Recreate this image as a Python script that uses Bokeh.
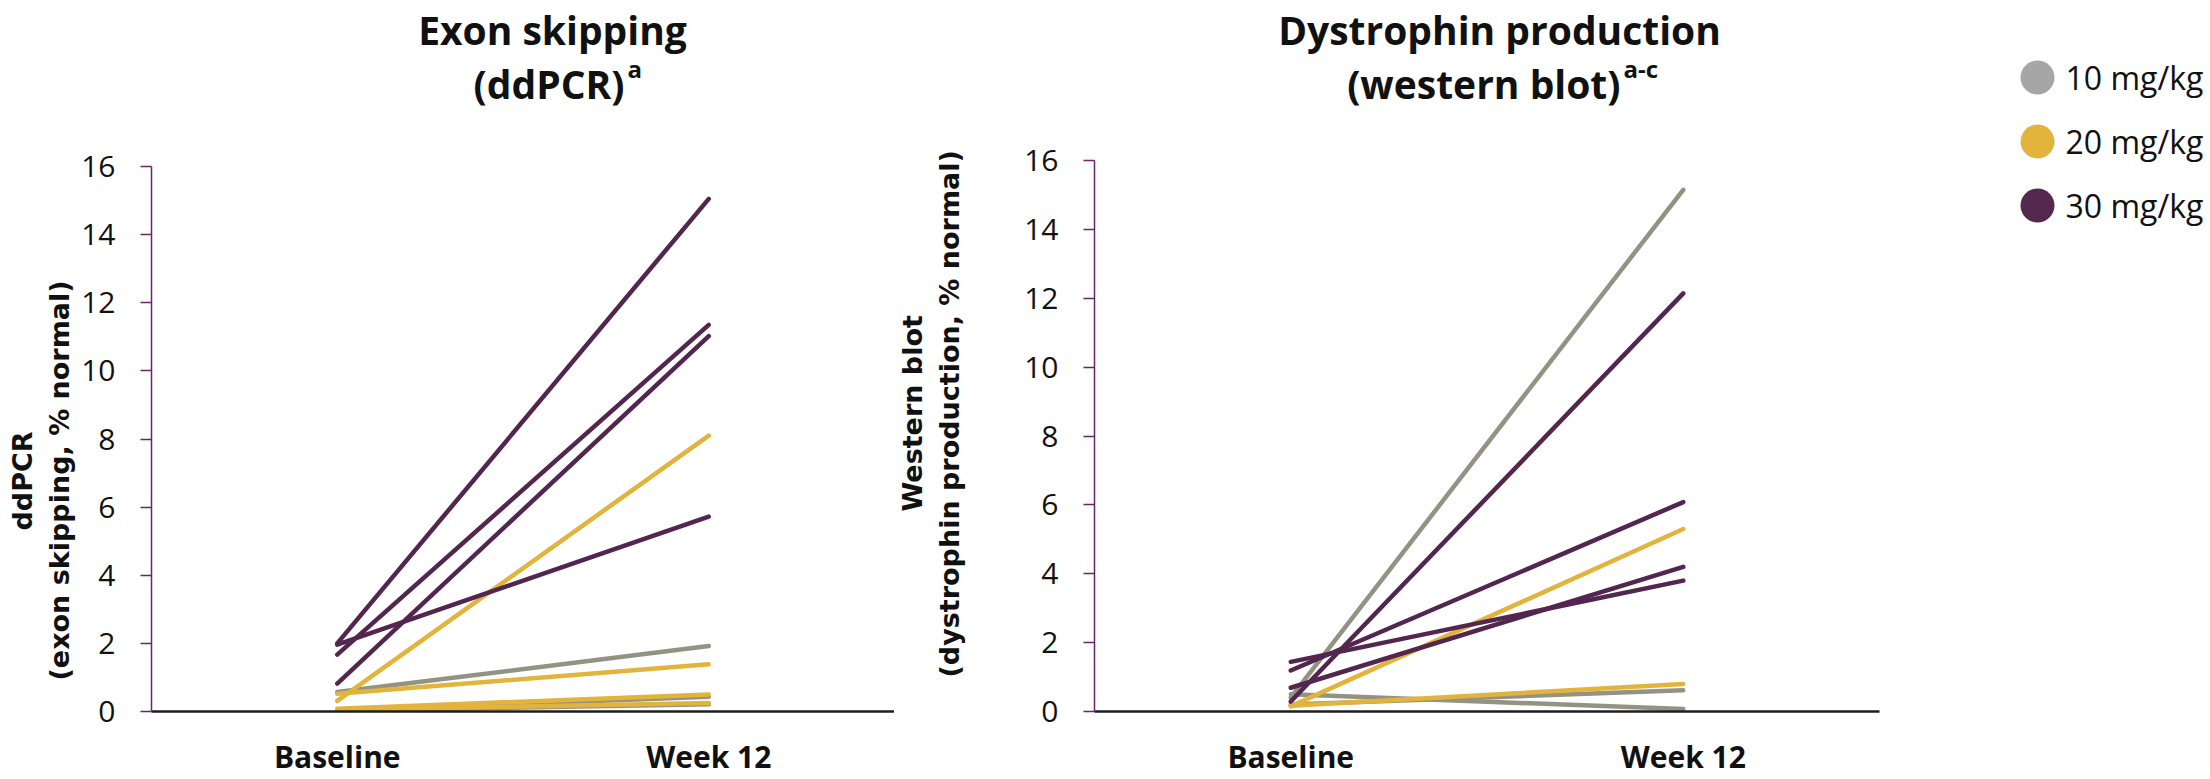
from bokeh.plotting import figure
from bokeh.models import FactorRange, Range1d, FixedTicker, Title, ColumnDataSource
from bokeh.layouts import row, column
from bokeh.embed import file_html
from bokeh.resources import INLINE
from bokeh.core.properties import value

# ---------------- data ----------------
timepoints = ["Baseline", "Week 12"]
doses = ["10 mg/kg", "20 mg/kg", "30 mg/kg"]
line_colors = ["#939384", "#e3b43c", "#53264f"]
legend_colors = ["#a6a6a6", "#e3b43c", "#55284f"]
y_ticks = [0, 2, 4, 6, 8, 10, 12, 14, 16]

# Exon skipping (ddPCR), % normal
exon_dose = ["10 mg/kg"] * 3 + ["20 mg/kg"] * 4 + ["30 mg/kg"] * 4
exon_baseline = [0.57, 0.03, 0.02, 0.31, 0.52, 0.08, 0.05, 2.00, 1.67, 0.82, 1.96]
exon_week12 = [1.92, 0.43, 0.21, 8.10, 1.39, 0.50, 0.25, 15.05, 11.35, 11.02, 5.72]

# Dystrophin production (western blot), % normal
wb_dose = ["10 mg/kg"] * 3 + ["20 mg/kg"] * 2 + ["30 mg/kg"] * 4
wb_baseline = [0.40, 0.50, 0.20, 0.15, 0.17, 0.29, 1.19, 0.69, 1.44]
wb_week12 = [15.15, 0.07, 0.62, 5.30, 0.80, 12.14, 6.08, 4.20, 3.80]

# titles: main line, second line, superscript
titles_l1 = ["Exon skipping", "Dystrophin production"]
titles_l2 = ["(ddPCR)", "(western blot)"]
titles_sup = ["a", "a-c"]

TICK_FONT = "Open Sans"
LABEL_FONT = "DejaVu Sans"
AXIS_PURPLE = "#6a2468"
TXT = "#111111"

# ---------------- layout constants (pixels) ----------------
P1_W, P2_W, LEG_W = 894, 1005, 311
TOTAL_H = 779
HEAD_H = 116
PLOT_H = TOTAL_H - HEAD_H


def bare(width, height, x_end, y_start):
    f = figure(width=width, height=height, x_range=Range1d(0, x_end),
               y_range=Range1d(y_start, 0), output_backend="svg",
               toolbar_location=None, x_axis_location=None, y_axis_location=None,
               min_border=0, min_border_left=0, min_border_right=0,
               min_border_top=0, min_border_bottom=0, title=None)
    f.grid.visible = False
    f.outline_line_color = None
    f.frame_align = False
    return f


def make_panel(ylabel, base, wk12, dose, width, mb_left, mb_right, mb_top,
               lab_offsets, lab_standoffs, inner_gap):
    p = figure(x_range=FactorRange(factors=timepoints, range_padding=0),
               y_range=Range1d(0, 16), width=width, height=PLOT_H,
               output_backend="svg", toolbar_location=None, title=None,
               min_border_left=mb_left, min_border_right=mb_right,
               min_border_top=mb_top, min_border_bottom=65)
    p.frame_align = False
    p.outline_line_color = None
    p.xgrid.grid_line_color = None
    p.ygrid.grid_line_color = None

    for d, c in zip(doses, line_colors):
        idx = [i for i, v in enumerate(dose) if v == d]
        src = ColumnDataSource(dict(
            x0=[timepoints[0]] * len(idx), x1=[timepoints[1]] * len(idx),
            y0=[base[i] for i in idx], y1=[wk12[i] for i in idx]))
        p.segment(x0="x0", y0="y0", x1="x1", y1="y1", source=src,
                  line_color=c, line_width=4.5, line_cap="round")

    ya = p.yaxis[0]
    ya.ticker = FixedTicker(ticks=y_ticks)
    ya.axis_line_color = AXIS_PURPLE
    ya.axis_line_width = 1.5
    ya.major_tick_line_color = AXIS_PURPLE
    ya.major_tick_line_width = 1.5
    ya.major_tick_out = 11
    ya.major_tick_in = 0
    ya.minor_tick_line_color = None
    ya.minor_tick_out = 0
    ya.minor_tick_in = 0
    ya.major_label_text_font = TICK_FONT
    ya.major_label_text_font_size = "30px"
    ya.major_label_text_color = TXT
    ya.major_label_standoff = 25
    ya.axis_label = None

    xa = p.xaxis[0]
    xa.axis_line_color = "#1e1e1e"
    xa.axis_line_width = 2.5
    xa.major_tick_line_color = None
    xa.major_tick_out = 0
    xa.major_tick_in = 0
    xa.minor_tick_line_color = None
    xa.minor_tick_out = 0
    xa.minor_tick_in = 0
    xa.major_label_text_font = TICK_FONT
    xa.major_label_text_font_style = "bold"
    xa.major_label_text_font_size = "30px"
    xa.major_label_text_color = TXT
    xa.major_label_text_line_height = 0.9
    xa.major_label_standoff = 24
    xa.axis_label = None

    # optional spacer between tick labels and the axis title
    if inner_gap > 0:
        p.add_layout(Title(text="\u00a0", text_font_size="1px", standoff=inner_gap), "left")
    # y-axis label: two lines, inner line added first (standoff = gap on outer side)
    lines = ylabel.split("\n")
    for txt, off, so in zip(reversed(lines), reversed(lab_offsets), reversed(lab_standoffs)):
        t = Title(text=txt, align="left", offset=off, standoff=so,
                  text_font=LABEL_FONT, text_font_style="bold", text_font_size="27px",
                  text_color=TXT)
        p.add_layout(t, "left")
    return p


p1 = make_panel("ddPCR\n(exon skipping, % normal)",
                exon_baseline, exon_week12, exon_dose,
                width=P1_W, mb_left=151, mb_right=0, mb_top=166 - HEAD_H,
                lab_offsets=[181, 31], lab_standoffs=[0, 8], inner_gap=0)

p2 = make_panel("Western blot\n(dystrophin production, % normal)",
                wb_baseline, wb_week12, wb_dose,
                width=P2_W, mb_left=196, mb_right=20, mb_top=160 - HEAD_H,
                lab_offsets=[200, 34], lab_standoffs=[0, 8], inner_gap=50)

# header with panel titles (page pixel coordinates)
head = bare(P1_W + P2_W, HEAD_H, P1_W + P2_W, HEAD_H)
centers = [552.0, 1499.0]
l2_right = [624.0, 1620.0]
head.text(x=centers, y=[29, 29], text=titles_l1, text_font=value(TICK_FONT),
          text_font_style="bold", text_font_size="39px", text_align="center",
          text_baseline="alphabetic", text_color=TXT)
head.text(x=l2_right, y=[83, 83], text=titles_l2, text_font=value(TICK_FONT),
          text_font_style="bold", text_font_size="39px", text_align="right",
          text_baseline="alphabetic", text_color=TXT)
head.text(x=[r + 3 for r in l2_right], y=[68, 68], text=titles_sup, text_font=value(TICK_FONT),
          text_font_style="bold", text_font_size="24px", text_align="left",
          text_baseline="alphabetic", text_color=TXT)

# legend panel
leg = bare(LEG_W, TOTAL_H, LEG_W, TOTAL_H)
leg_y = [77 + 64 * i for i in range(len(doses))]
leg.scatter(x=[138] * len(doses), y=leg_y, size=34, marker="circle",
            color=legend_colors, line_color=None)
leg.text(x=[166] * len(doses), y=leg_y, text=doses, text_font=value(TICK_FONT),
         text_font_size="32px", text_baseline="middle", text_align="left", text_color=TXT)

layout = row(column(head, row(p1, p2, spacing=0), spacing=0), leg, spacing=0)
open("out.html", "w").write(file_html(layout, INLINE))
